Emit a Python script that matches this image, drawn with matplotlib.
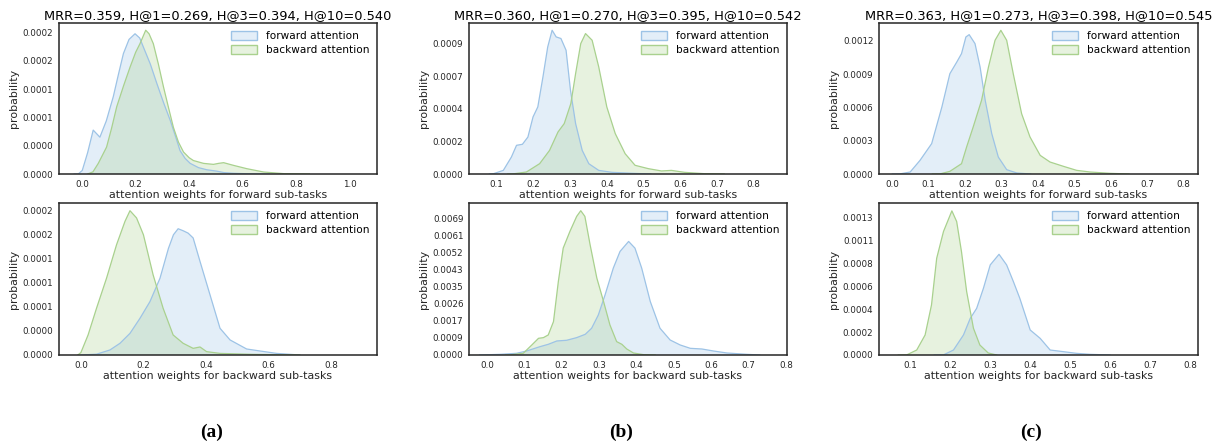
import matplotlib
matplotlib.use("Agg")
import matplotlib.pyplot as plt
from matplotlib.patches import Patch
import matplotlib.colors as mcolors

# ---------------- data ----------------
titles = ["MRR=0.359, H@1=0.269, H@3=0.394, H@10=0.540",
          "MRR=0.360, H@1=0.270, H@3=0.395, H@10=0.542",
          "MRR=0.363, H@1=0.273, H@3=0.398, H@10=0.545"]
panel_letters = ["(a)", "(b)", "(c)"]
series_names = ["forward attention", "backward attention"]
xlabel_top = "attention weights for forward sub-tasks"
xlabel_bottom = "attention weights for backward sub-tasks"

# (a) top
a_top_fwd_x = [-0.03, -0.015, 0.0, 0.02, 0.041, 0.066, 0.09, 0.116, 0.135, 0.154, 0.175, 0.1975, 0.215, 0.229,
               0.255, 0.279, 0.305, 0.329, 0.35, 0.366, 0.385, 0.404, 0.435, 0.466, 0.504, 0.53, 0.566, 0.62, 0.7]
a_top_fwd_y = [0, 0, 0.05e-4, 0.3e-4, 0.62e-4, 0.52e-4, 0.75e-4, 1.09e-4, 1.4e-4, 1.7e-4, 1.9e-4, 1.98e-4, 1.92e-4,
               1.79e-4, 1.55e-4, 1.28e-4, 1.0e-4, 0.76e-4, 0.52e-4, 0.33e-4, 0.22e-4, 0.15e-4, 0.09e-4, 0.06e-4,
               0.04e-4, 0.02e-4, 0.01e-4, 0.003e-4, 0]
a_top_bwd_x = [0.02, 0.04, 0.06, 0.091, 0.11, 0.129, 0.155, 0.179, 0.2, 0.216, 0.2375, 0.25, 0.266, 0.285, 0.304,
               0.322, 0.341, 0.36, 0.379, 0.4, 0.416, 0.454, 0.491, 0.51, 0.529, 0.566, 0.616, 0.679, 0.754, 0.85]
a_top_bwd_y = [0, 0.03e-4, 0.15e-4, 0.38e-4, 0.65e-4, 0.95e-4, 1.25e-4, 1.51e-4, 1.72e-4, 1.84e-4, 2.03e-4,
               1.98e-4, 1.84e-4, 1.55e-4, 1.23e-4, 0.95e-4, 0.66e-4, 0.45e-4, 0.31e-4, 0.23e-4, 0.19e-4,
               0.15e-4, 0.136e-4, 0.15e-4, 0.16e-4, 0.122e-4, 0.075e-4, 0.028e-4, 0.005e-4, 0]
# (a) bottom
a_bot_fwd_x = [0.0, 0.05, 0.093, 0.125, 0.157, 0.189, 0.221, 0.253, 0.28, 0.296, 0.311, 0.327, 0.343, 0.359,
               0.381, 0.413, 0.445, 0.477, 0.53, 0.573, 0.626, 0.7]
a_bot_fwd_y = [0, 0.1e-5, 0.63e-5, 1.46e-5, 2.7e-5, 4.58e-5, 6.67e-5, 9.58e-5, 13.3e-5, 15.0e-5, 15.75e-5,
               15.5e-5, 15.2e-5, 14.6e-5, 11.67e-5, 7.5e-5, 3.33e-5, 1.88e-5, 0.75e-5, 0.5e-5, 0.2e-5, 0]
a_bot_bwd_x = [-0.01, 0.0, 0.023, 0.05, 0.082, 0.114, 0.141, 0.157, 0.178, 0.2, 0.231, 0.263, 0.295, 0.327,
               0.359, 0.381, 0.402, 0.445, 0.55, 0.7]
a_bot_bwd_y = [0, 0.3e-5, 2.5e-5, 5.83e-5, 9.58e-5, 13.75e-5, 16.67e-5, 18.0e-5, 17.1e-5, 15.0e-5, 10.0e-5,
               5.83e-5, 2.5e-5, 1.46e-5, 0.83e-5, 1.0e-5, 0.42e-5, 0.2e-5, 0.08e-5, 0]
# (b) top
b_top_fwd_x = [0.08, 0.091, 0.118, 0.14, 0.154, 0.17, 0.185, 0.199, 0.212, 0.226, 0.239, 0.251, 0.262, 0.275,
               0.289, 0.301, 0.315, 0.333, 0.351, 0.378, 0.414, 0.468, 0.52]
b_top_fwd_y = [0, 0.02e-4, 0.25e-4, 1.17e-4, 1.98e-4, 2.05e-4, 2.55e-4, 3.94e-4, 4.63e-4, 6.7e-4, 8.77e-4,
               9.92e-4, 9.46e-4, 9.35e-4, 8.54e-4, 5.78e-4, 3.48e-4, 1.63e-4, 0.71e-4, 0.25e-4, 0.115e-4,
               0.05e-4, 0]
b_top_bwd_x = [0.13, 0.145, 0.181, 0.217, 0.244, 0.267, 0.284, 0.302, 0.315, 0.329, 0.342, 0.36, 0.378, 0.4,
               0.423, 0.45, 0.477, 0.513, 0.549, 0.576, 0.612, 0.665, 0.72]
b_top_bwd_y = [0, 0.01e-4, 0.138e-4, 0.714e-4, 1.63e-4, 2.9e-4, 3.48e-4, 4.86e-4, 6.93e-4, 9.0e-4, 9.69e-4,
               9.23e-4, 7.39e-4, 4.63e-4, 2.79e-4, 1.4e-4, 0.6e-4, 0.37e-4, 0.21e-4, 0.25e-4, 0.115e-4,
               0.023e-4, 0]
# (b) bottom
b_bot_fwd_x = [-0.02, 0.035, 0.079, 0.106, 0.142, 0.164, 0.187, 0.213, 0.24, 0.263, 0.28, 0.298, 0.316, 0.338,
               0.356, 0.379, 0.396, 0.414, 0.437, 0.463, 0.49, 0.517, 0.544, 0.575, 0.606, 0.642, 0.696, 0.73]
b_bot_fwd_y = [0, 0.034e-3, 0.085e-3, 0.203e-3, 0.424e-3, 0.542e-3, 0.712e-3, 0.746e-3, 0.881e-3, 1.05e-3,
               1.356e-3, 2.033e-3, 3.05e-3, 4.406e-3, 5.253e-3, 5.76e-3, 5.42e-3, 4.406e-3, 2.71e-3, 1.356e-3,
               0.762e-3, 0.508e-3, 0.339e-3, 0.305e-3, 0.203e-3, 0.102e-3, 0.034e-3, 0]
b_bot_bwd_x = [0.05, 0.062, 0.097, 0.12, 0.138, 0.151, 0.164, 0.178, 0.191, 0.204, 0.222, 0.24, 0.251, 0.262,
               0.276, 0.294, 0.312, 0.329, 0.347, 0.361, 0.374, 0.392, 0.419, 0.45]
b_bot_bwd_y = [0, 0.01e-3, 0.085e-3, 0.508e-3, 0.847e-3, 0.881e-3, 1.017e-3, 1.694e-3, 3.728e-3, 5.422e-3,
               6.27e-3, 7.03e-3, 7.32e-3, 7.03e-3, 5.59e-3, 3.9e-3, 2.71e-3, 1.525e-3, 0.678e-3, 0.542e-3,
               0.305e-3, 0.102e-3, 0.017e-3, 0]
# (c) top
c_top_fwd_x = [0.0, 0.021, 0.049, 0.076, 0.108, 0.136, 0.158, 0.177, 0.19, 0.202, 0.211, 0.227, 0.241, 0.255,
               0.273, 0.291, 0.314, 0.342, 0.38]
c_top_fwd_y = [0, 0.01e-4, 0.18e-4, 1.23e-4, 2.74e-4, 6.04e-4, 9.05e-4, 10.1e-4, 10.86e-4, 12.36e-4, 12.57e-4,
               11.76e-4, 9.65e-4, 6.65e-4, 3.64e-4, 1.53e-4, 0.39e-4, 0.09e-4, 0]
c_top_bwd_x = [0.11, 0.131, 0.158, 0.19, 0.204, 0.222, 0.245, 0.264, 0.282, 0.298, 0.314, 0.332, 0.355, 0.378,
               0.406, 0.433, 0.47, 0.506, 0.543, 0.598, 0.65]
c_top_bwd_y = [0, 0.01e-4, 0.24e-4, 0.93e-4, 2.44e-4, 4.24e-4, 6.65e-4, 9.65e-4, 12.06e-4, 12.96e-4, 12.06e-4,
               9.05e-4, 5.44e-4, 3.34e-4, 1.68e-4, 1.08e-4, 0.69e-4, 0.33e-4, 0.18e-4, 0.06e-4, 0]
# (c) bottom
c_bot_fwd_x = [0.16, 0.183, 0.208, 0.233, 0.25, 0.266, 0.283, 0.3, 0.322, 0.341, 0.358, 0.374, 0.4, 0.425, 0.45,
               0.483, 0.516, 0.55, 0.6]
c_bot_fwd_y = [0, 0.01e-4, 0.47e-4, 1.89e-4, 3.46e-4, 4.4e-4, 6.3e-4, 8.5e-4, 9.5e-4, 8.5e-4, 6.92e-4, 5.35e-4,
               2.36e-4, 1.57e-4, 0.47e-4, 0.315e-4, 0.157e-4, 0.063e-4, 0]
c_bot_bwd_x = [0.07, 0.091, 0.116, 0.137, 0.153, 0.166, 0.183, 0.204, 0.216, 0.228, 0.241, 0.258, 0.274, 0.295,
               0.316]
c_bot_bwd_y = [0, 0.01e-4, 0.47e-4, 1.89e-4, 4.72e-4, 9.13e-4, 11.65e-4, 13.6e-4, 12.59e-4, 9.76e-4, 5.98e-4,
               2.52e-4, 0.944e-4, 0.189e-4, 0]

# axis ticks and labels
a_top_xticks = [0.0, 0.2, 0.4, 0.6, 0.8, 1.0]
a_bot_xticks = [0.0, 0.2, 0.4, 0.6, 0.8]
b_top_xticks = [0.1, 0.2, 0.3, 0.4, 0.5, 0.6, 0.7, 0.8]
b_bot_xticks = [0.0, 0.1, 0.2, 0.3, 0.4, 0.5, 0.6, 0.7, 0.8]
c_top_xticks = [0.0, 0.1, 0.2, 0.3, 0.4, 0.5, 0.6, 0.7, 0.8]
c_bot_xticks = [0.1, 0.2, 0.3, 0.4, 0.5, 0.6, 0.7, 0.8]

a_top_yticks = [0, 0.00004, 0.00008, 0.00012, 0.00016, 0.0002]
a_top_ylabels = ["0.0000", "0.0000", "0.0001", "0.0001", "0.0002", "0.0002"]
a_bot_yticks = [0, 0.00003, 0.00006, 0.00009, 0.00012, 0.00015, 0.00018]
a_bot_ylabels = ["0.0000", "0.0000", "0.0001", "0.0001", "0.0001", "0.0002", "0.0002"]
b_top_yticks = [0, 0.000225, 0.00045, 0.000675, 0.0009]
b_top_ylabels = ["0.0000", "0.0002", "0.0004", "0.0007", "0.0009"]
b_bot_yticks = [0, 0.0008625, 0.001725, 0.0025875, 0.00345, 0.0043125, 0.005175, 0.0060375, 0.0069]
b_bot_ylabels = ["0.0000", "0.0009", "0.0017", "0.0026", "0.0035", "0.0043", "0.0052", "0.0061", "0.0069"]
c_top_yticks = [0, 0.0003, 0.0006, 0.0009, 0.0012]
c_top_ylabels = ["0.0000", "0.0003", "0.0006", "0.0009", "0.0012"]
c_bot_yticks = [0, 0.0013 / 6, 0.0026 / 6, 0.0039 / 6, 0.0052 / 6, 0.0065 / 6, 0.0013]
c_bot_ylabels = ["0.0000", "0.0002", "0.0004", "0.0006", "0.0008", "0.0011", "0.0013"]

# ---------------- styling / layout ----------------
FWD_EDGE = "#9dc3e6"
BWD_EDGE = "#a9d18e"
ALPHA = 0.28
SPINE = "#262626"

panels = [
    (a_top_fwd_x, a_top_fwd_y, a_top_bwd_x, a_top_bwd_y, a_top_xticks, a_top_yticks, a_top_ylabels,
     (-0.087, 1.103), 0.0002132, (59, 23, 377, 174), xlabel_top, titles[0]),
    (a_bot_fwd_x, a_bot_fwd_y, a_bot_bwd_x, a_bot_bwd_y, a_bot_xticks, a_bot_yticks, a_bot_ylabels,
     (-0.070, 0.947), 0.0001896, (59, 203, 377, 355), xlabel_bottom, None),
    (b_top_fwd_x, b_top_fwd_y, b_top_bwd_x, b_top_bwd_y, b_top_xticks, b_top_yticks, b_top_ylabels,
     (0.0245, 0.891), 0.001042, (469, 23, 787, 174), xlabel_top, titles[1]),
    (b_bot_fwd_x, b_bot_fwd_y, b_bot_bwd_x, b_bot_bwd_y, b_bot_xticks, b_bot_yticks, b_bot_ylabels,
     (-0.048, 0.8027), 0.00771, (469, 203, 787, 355), xlabel_bottom, None),
    (c_top_fwd_x, c_top_fwd_y, c_top_bwd_x, c_top_bwd_y, c_top_xticks, c_top_yticks, c_top_ylabels,
     (-0.0366, 0.8393), 0.001362, (879, 23, 1198, 174), xlabel_top, titles[2]),
    (c_bot_fwd_x, c_bot_fwd_y, c_bot_bwd_x, c_bot_bwd_y, c_bot_xticks, c_bot_yticks, c_bot_ylabels,
     (0.0216, 0.820), 0.001434, (879, 203, 1198, 355), xlabel_bottom, None),
]

W, H = 1220, 447
fig = plt.figure(figsize=(W / 100, H / 100), dpi=100)
fig.patch.set_facecolor("white")

for (fx, fy, bx, by, xt, yt, yl, xlim, ytop, (l, t, r, b), xlab, title) in panels:
    ax = fig.add_axes([l / W, 1 - b / H, (r - l) / W, (b - t) / H])
    ax.fill_between(fx, fy, 0, facecolor=FWD_EDGE, alpha=ALPHA, linewidth=0)
    ax.plot(fx, fy, color=FWD_EDGE, lw=0.9)
    ax.fill_between(bx, by, 0, facecolor=BWD_EDGE, alpha=ALPHA, linewidth=0)
    ax.plot(bx, by, color=BWD_EDGE, lw=0.9)
    ax.set_xlim(*xlim)
    ax.set_ylim(0, ytop)
    ax.set_xticks(xt)
    ax.set_xticklabels([f"{v:.1f}" for v in xt])
    ax.set_yticks(yt)
    ax.set_yticklabels(yl)
    ax.tick_params(axis="both", length=0, labelsize=6.3, colors=SPINE, pad=4)
    for s in ax.spines.values():
        s.set_color(SPINE)
        s.set_linewidth(1.1)
    ax.set_xlabel(xlab, fontsize=7.9, color=SPINE, labelpad=1.2)
    ax.set_ylabel("probability", fontsize=7.9, color=SPINE, labelpad=3)
    if title:
        ax.set_title(title, fontsize=9.4, color="black", pad=3)
    handles = [Patch(facecolor=(*mcolors.to_rgb(FWD_EDGE), ALPHA), edgecolor=FWD_EDGE),
               Patch(facecolor=(*mcolors.to_rgb(BWD_EDGE), ALPHA), edgecolor=BWD_EDGE)]
    ax.legend(handles, series_names, loc="upper right", frameon=False, fontsize=7.6,
              handlelength=2.5, handleheight=0.9, borderaxespad=0.35, labelspacing=0.4,
              handletextpad=0.8)

for letter, cx in zip(panel_letters, [212, 621, 1031]):
    fig.text(cx / W, 1 - 432 / H, letter, ha="center", va="center",
             fontsize=14, fontweight="bold", family="Liberation Serif")

fig.savefig("out.png", dpi=100)
